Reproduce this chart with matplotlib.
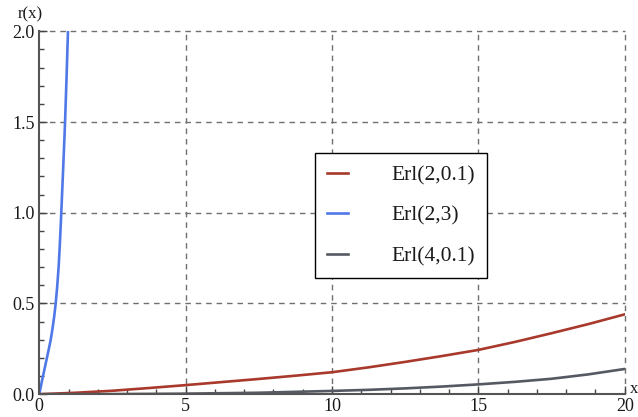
import matplotlib.pyplot as plt
import numpy as np

# curve values r(x) for the three Erlang cases
x_red = [0, 1.25, 2.5, 3.75, 5, 6.25, 7.5, 8.75, 10, 11.25, 12.5, 13.75, 15, 16.25, 17.5, 18.75, 20]
r_red = [0, 0.008, 0.019, 0.034, 0.050, 0.067, 0.084, 0.102, 0.121, 0.148, 0.178, 0.210, 0.244, 0.288, 0.336, 0.386, 0.440]

x_blue = [0, 0.1, 0.2, 0.3, 0.39, 0.45, 0.51, 0.56, 0.61, 0.66, 0.70, 0.74, 0.78, 0.83, 0.88, 0.93, 0.98]
r_blue = [0, 0.08, 0.155, 0.23, 0.30, 0.36, 0.43, 0.50, 0.59, 0.70, 0.82, 0.96, 1.11, 1.30, 1.50, 1.74, 2.00]

x_gray = [0, 2.5, 5, 7.5, 10, 11.25, 12.5, 13.75, 15, 16.25, 17.5, 18.75, 20]
r_gray = [0, 0.0005, 0.003, 0.008, 0.018, 0.024, 0.032, 0.042, 0.054, 0.068, 0.085, 0.109, 0.139]

labels = ['Erl(2,0.1)', 'Erl(2,3)', 'Erl(4,0.1)']
colors = ['#a8392c', '#5079e8', '#555a62']

plt.rcParams['font.family'] = ['Liberation Serif', 'DejaVu Serif']

fig = plt.figure(figsize=(6.38, 4.17), dpi=100)
ax = fig.add_axes([0.0616, 0.0547, 0.9176, 0.8703])

ax.plot(x_red, r_red, color=colors[0], lw=1.9, label=labels[0])
ax.plot(x_blue, r_blue, color=colors[1], lw=1.9, label=labels[1])
ax.plot(x_gray, r_gray, color=colors[2], lw=1.9, label=labels[2])

ax.set_xlim(0, 20)
ax.set_ylim(0, 2.0)
ax.set_xticks([0, 5, 10, 15, 20])
ax.set_yticks([0, 0.5, 1.0, 1.5, 2.0])
ax.set_yticklabels(['0.0', '0.5', '1.0', '1.5', '2.0'])
ax.set_xticks(np.arange(0, 21, 1), minor=True)
ax.set_yticks(np.arange(0, 2.01, 0.1), minor=True)
ax.tick_params(which='both', direction='in', colors='#444444', labelcolor='#1a1a1a',
               labelsize=13, width=1)
ax.tick_params(which='major', length=6)
ax.tick_params(axis='y', which='major', pad=3.5)
ax.tick_params(axis='x', which='major', pad=2.5)
ax.tick_params(which='minor', length=3.5)

for s in ['top', 'right']:
    ax.spines[s].set_visible(False)
for s in ['left', 'bottom']:
    ax.spines[s].set_color('#555555')
    ax.spines[s].set_linewidth(1.5)

# dashed grid at the major ticks, not on the axes themselves
for gx in [5, 10, 15, 20]:
    ax.axvline(gx, color='#707070', lw=1, ls=(0, (4, 3.5)), zorder=0, clip_on=False)
for gy in [0.5, 1.0, 1.5, 2.0]:
    ax.axhline(gy, color='#707070', lw=1, ls=(0, (4, 3.5)), zorder=0, clip_on=False)

fig.text(0.048, 0.965, 'r(x)', fontsize=12, color='#1a1a1a', ha='center', va='center')
fig.text(0.987, 0.068, 'x', fontsize=12, color='#1a1a1a', ha='left', va='center')

leg = ax.legend(loc='lower left', bbox_to_anchor=(0.471, 0.320), fontsize=15.5,
                frameon=True, fancybox=False, edgecolor='black', framealpha=1,
                handlelength=1.0, handletextpad=2.0, labelspacing=0.95,
                borderpad=0.55, borderaxespad=0)
leg.get_frame().set_linewidth(1)
for t in leg.get_texts():
    t.set_color('#1a1a1a')

plt.savefig('out.png', dpi=100)
